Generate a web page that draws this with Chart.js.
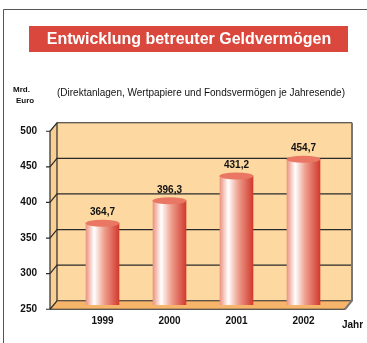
<!DOCTYPE html>
<html>
<head>
<meta charset="utf-8">
<script src="https://cdn.jsdelivr.net/npm/chart.js@4"></script>
<style>
html, body { margin: 0; padding: 0; background: #fff; }
</style>
</head>
<body>
<canvas id="assetChart" width="367" height="343"></canvas>
<script>
// data
const years = ['1999', '2000', '2001', '2002'];
const assets = [364.7, 396.3, 431.2, 454.7];
const yTicks = [250, 300, 350, 400, 450, 500];
const titleText = 'Entwicklung betreuter Geldvermögen';
const subText = '(Direktanlagen, Wertpapiere und Fondsvermögen je Jahresende)';
const unitText = ['Mrd.', 'Euro'];
const xTitle = 'Jahr';

const FONT = '"Liberation Sans", Arial, sans-serif';
const DX = 7, DY = 8.5; // depth of the 3d box

function barFill(ctx) {
  const chart = ctx.chart;
  if (!chart.chartArea) return '#e0705f';
  const cx = chart.scales.x.getPixelForValue(ctx.dataIndex);
  const g = chart.ctx.createLinearGradient(cx - 16.5, 0, cx + 16.5, 0);
  g.addColorStop(0, '#eb9482');
  g.addColorStop(0.25, '#ffffff');
  g.addColorStop(0.55, '#eea08f');
  g.addColorStop(1, '#d23a2e');
  return g;
}

function poly(c, pts, fill) {
  c.beginPath();
  c.moveTo(pts[0][0], pts[0][1]);
  for (let i = 1; i < pts.length; i++) c.lineTo(pts[i][0], pts[i][1]);
  c.closePath();
  c.fillStyle = fill;
  c.fill();
}

const boxPlugin = {
  id: 'box3d',
  beforeDraw(chart) {
    const c = chart.ctx;
    c.save();
    // frame
    c.strokeStyle = '#555';
    c.lineWidth = 1;
    c.beginPath();
    c.moveTo(3.5, 343); c.lineTo(3.5, 9.5); c.lineTo(367, 9.5);
    c.stroke();
    // title
    c.fillStyle = '#d9473d';
    c.fillRect(29, 26, 319, 26);
    c.fillStyle = '#fff';
    c.font = 'bold 16px ' + FONT;
    c.textAlign = 'center';
    c.textBaseline = 'middle';
    c.fillText(titleText, 189, 40, 298);
    // unit + subtitle
    c.fillStyle = '#111';
    c.textAlign = 'left';
    c.textBaseline = 'alphabetic';
    c.font = 'bold 8px ' + FONT;
    c.fillText(unitText[0], 13, 92);
    c.fillText(unitText[1], 16, 103);
    c.font = '10px ' + FONT;
    c.fillText(subText, 57, 96, 288);
    c.restore();
  },
  beforeDatasetsDraw(chart) {
    const c = chart.ctx, a = chart.chartArea, y = chart.scales.y;
    const L = a.left - 19, BL = L + DX, BR = a.right + 15, FR = BR - DX;
    const fy = v => y.getPixelForValue(v) + DY / 2;
    const by = v => y.getPixelForValue(v) - DY / 2;
    const lo = yTicks[0], hi = yTicks[yTicks.length - 1];
    c.save();
    c.fillStyle = '#fdd8a0';
    c.fillRect(BL, by(hi), BR - BL, by(lo) - by(hi));
    poly(c, [[L, fy(hi)], [BL, by(hi)], [BL, by(lo)], [L, fy(lo)]], '#f9cf93');
    poly(c, [[L, fy(lo)], [BL, by(lo)], [BR, by(lo)], [FR, fy(lo)]], '#f6b56a');
    // grid lines on side and back wall
    c.strokeStyle = '#2a2a2a';
    c.lineWidth = 1.2;
    yTicks.forEach(v => {
      c.beginPath();
      c.moveTo(L, fy(v)); c.lineTo(BL, by(v)); c.lineTo(BR, by(v));
      c.stroke();
    });
    c.beginPath();
    c.moveTo(BL, by(hi)); c.lineTo(BL, by(lo));
    c.stroke();
    // right edge
    c.strokeStyle = '#777';
    c.lineWidth = 2;
    c.beginPath();
    c.moveTo(BR, by(hi)); c.lineTo(BR, by(lo)); c.lineTo(FR, fy(lo));
    c.stroke();
    // front floor edge and y axis
    c.strokeStyle = '#2a2a2a';
    c.lineWidth = 1.2;
    c.beginPath();
    c.moveTo(L, fy(lo)); c.lineTo(FR, fy(lo));
    c.moveTo(L, fy(hi)); c.lineTo(L, fy(lo));
    yTicks.forEach(v => { c.moveTo(L - 4, fy(v)); c.lineTo(L, fy(v)); });
    c.stroke();
    c.restore();
  },
  afterDatasetsDraw(chart) {
    const c = chart.ctx;
    const meta = chart.getDatasetMeta(0);
    c.save();
    meta.data.forEach((bar, i) => {
      c.fillStyle = '#ea7763';
      c.beginPath();
      c.ellipse(bar.x, bar.y, bar.width / 2 + 0.5, 3.5, 0, 0, Math.PI * 2);
      c.fill();
      c.fillStyle = '#111';
      c.font = 'bold 10px ' + FONT;
      c.textAlign = 'center';
      c.textBaseline = 'bottom';
      c.fillText(assets[i].toFixed(1).replace('.', ','), bar.x, bar.y - 6);
    });
    c.font = 'bold 10px ' + FONT;
    c.textAlign = 'left';
    c.textBaseline = 'middle';
    c.fillText(xTitle, 342, 325);
    c.restore();
  }
};

const ctx = document.getElementById('assetChart').getContext('2d');
new Chart(ctx, {
  type: 'bar',
  data: {
    labels: years,
    datasets: [{
      label: 'Geldvermögen',
      data: assets,
      backgroundColor: barFill,
      borderWidth: 0,
      barThickness: 33,
      base: yTicks[0]
    }]
  },
  options: {
    responsive: false,
    animation: false,
    layout: { padding: { top: 127, right: 30, bottom: 0, left: 0 } },
    plugins: {
      legend: { display: false },
      tooltip: { enabled: false }
    },
    scales: {
      x: {
        grid: { display: false, drawTicks: false },
        border: { display: false },
        ticks: { color: '#111', font: { family: FONT, size: 10, weight: 'bold' }, padding: 10 },
        afterFit(s) { s.height = 34; }
      },
      y: {
        min: yTicks[0],
        max: yTicks[yTicks.length - 1],
        grid: { display: false, drawTicks: false },
        border: { display: false },
        ticks: {
          stepSize: 50,
          labelOffset: 4,
          padding: 32,
          color: '#111',
          font: { family: FONT, size: 10, weight: 'bold' }
        },
        afterFit(s) { s.width = 69; }
      }
    }
  },
  plugins: [boxPlugin]
});
</script>
</body>
</html>
